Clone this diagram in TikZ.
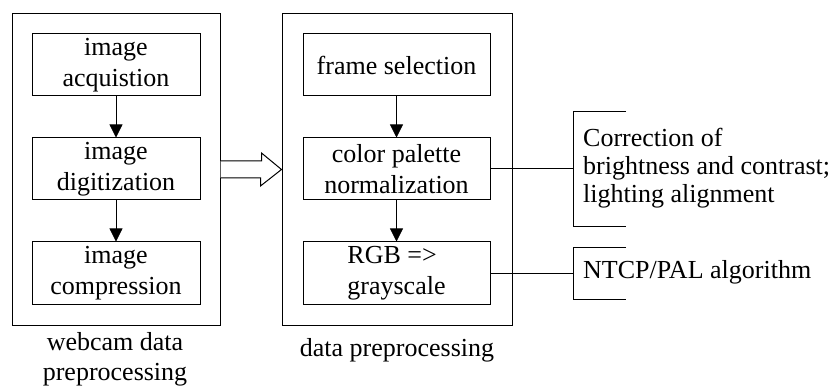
\documentclass[tikz,border=0pt]{standalone}
\usepackage{fontspec}
\setmainfont{Liberation Serif}
\newfontfamily\labelfont{Liberation Serif}
\usetikzlibrary{arrows.meta,calc}
\begin{document}
\begin{tikzpicture}[x=1pt, y=-1pt,
  every node/.style={font=\labelfont\fontsize{26}{31}\selectfont},
  stagebox/.style={draw, line width=1pt, minimum width=168pt, minimum height=62pt, align=center, inner sep=0pt},
  groupbox/.style={draw, line width=1pt, minimum height=311pt, inner sep=0pt},
  flow/.style={line width=0.8pt, -{Triangle[length=13pt, width=13pt]}},
  link/.style={line width=1pt},
  notetext/.style={anchor=west, align=left, inner sep=0pt, font=\labelfont\fontsize{26}{28}\selectfont}
]
\useasboundingbox (0,0) rectangle (837,387);

% outer groups
\node[groupbox, minimum width=208pt] (g1) at (116,169.5) {};
\node[groupbox, minimum width=230pt] (g2) at (397,169.5) {};

% webcam stages
\node[stagebox] (acq) at (116,65) {image\\acquistion};
\node[stagebox] (dig) at (116,169) {image\\digitization};
\node[stagebox] (cmp) at (116,273) {image\\compression};

% preprocessing stages
\node[stagebox, minimum width=187pt] (fs) at (396.5,65) {frame selection};
\node[stagebox, minimum width=187pt] (cpn) at (396.5,169) {color palette\\normalization};
\node[stagebox, minimum width=187pt, align=left] (rgb) at (396.5,273) {RGB =>\\grayscale};

\draw[flow] (acq.south) -- (dig.north);
\draw[flow] (dig.south) -- (cmp.north);
\draw[flow] (fs.south) -- (cpn.north);
\draw[flow] (cpn.south) -- (rgb.north);

% group captions
\node[align=center, font=\labelfont\fontsize{26}{30}\selectfont] (cap1) at (115,359) {webcam data\\preprocessing};
\node (cap2) at (397,350) {data preprocessing};

% hollow block arrow between the groups
\draw[line width=1pt, fill=white]
  ($(g1.east)+(0,-8.5)$) -- ++(41,0) -- ++(0,-8) -- (g2.west) -- ++(-21,16.5) -- ++(0,-8) -- ($(g1.east)+(0,8.5)$);

% side notes
\coordinate (b1) at (573,169);
\coordinate (b2) at (573,273);
\draw[link] (cpn.east) -- (b1);
\draw[link] (rgb.east) -- (b2);
\draw[link] (626,112) -- (573,112) -- (573,227) -- (626,227);
\draw[link] (626,247) -- (573,247) -- (573,299) -- (626,299);
\node[notetext] (n1) at (583,168) {Correction of\\brightness and contrast;\\lighting alignment};
\node[notetext] (n2) at (583,272) {NTCP/PAL algorithm};
\end{tikzpicture}
\end{document}
